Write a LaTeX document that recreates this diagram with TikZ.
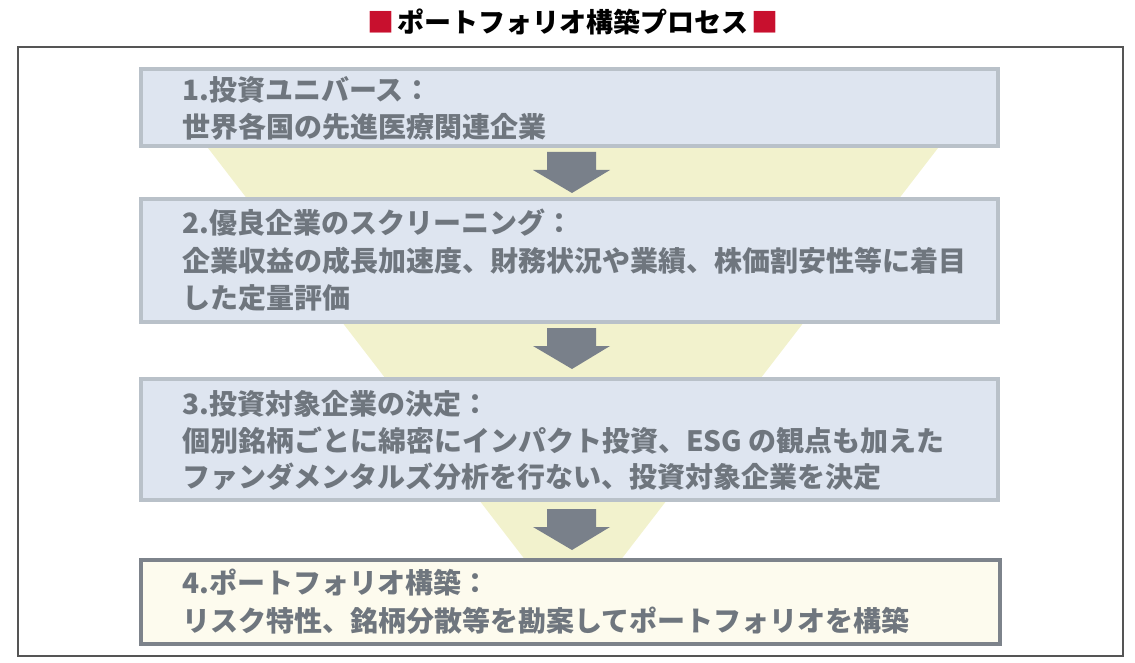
\documentclass[tikz,border=0pt]{standalone}
\usepackage{fontspec}
\newfontfamily\cjk{Noto Sans CJK JP}
\usetikzlibrary{positioning}
\definecolor{boxfill}{HTML}{DEE5F0}
\definecolor{boxline}{HTML}{B9C1C9}
\definecolor{lastfill}{HTML}{FDFBEE}
\definecolor{lastline}{HTML}{7D838B}
\definecolor{funnel}{HTML}{F2F2CD}
\definecolor{arrowc}{HTML}{79808A}
\definecolor{txt}{HTML}{6F767E}
\definecolor{redsq}{HTML}{C8102E}
\definecolor{frame}{HTML}{555555}
\begin{document}
\begin{tikzpicture}[x=1pt,y=-1pt,
  stepbox/.style={draw=boxline,fill=boxfill,line width=4pt,minimum width=857pt,inner sep=0pt},
  lastbox/.style={draw=lastline,fill=lastfill,line width=4pt,minimum width=859pt,inner sep=0pt},
  label/.style={anchor=west,inner sep=0pt,text=txt,font=\cjk\bfseries\fontsize{28}{31}\selectfont},
  downarrow/.style={fill=arrowc}]
\useasboundingbox (0,0) rectangle (1135,663);
% outer frame
\draw[frame,line width=1.5pt] (18,47) rectangle (1123,656);
% title
\node[inner sep=0pt,font=\cjk\bfseries\fontsize{27}{30}\selectfont] (title) at (573,22)
  {\textcolor{redsq}{■}\hspace{3pt}ポートフォリオ構築プロセス\hspace{3pt}\textcolor{redsq}{■}};
% funnel
\fill[funnel] (208,148) -- (938,148) -- (573,622) -- cycle;
% boxes
\node[stepbox,minimum height=77pt] (b1) at (569.5,107.5) {};
\node[stepbox,minimum height=123pt] (b2) at (569.5,260.5) {};
\node[stepbox,minimum height=121pt] (b3) at (569.5,439.5) {};
\node[lastbox,minimum height=84pt] (b4) at (570.5,602) {};
% arrows
\foreach \t in {152,328,509}{
  \fill[downarrow] (547,\t) -- (596,\t) -- (596,\t+18) -- (610,\t+18) -- (572,\t+41) -- (533,\t+18) -- (547,\t+18) -- cycle;
}
% texts
\node[label] (t1a) at (182,90) {1.投資ユニバース：};
\node[label] (t1b) at (182,127) {世界各国の先進医療関連企業};
\node[label] (t2a) at (182,223) {2.優良企業のスクリーニング：};
\node[label] (t2b) at (182,261) {企業収益の成長加速度、財務状況や業績、株価割安性等に着目};
\node[label] (t2c) at (182,298) {した定量評価};
\node[label] (t3a) at (182,404) {3.投資対象企業の決定：};
\node[label] (t3b) at (182,441) {個別銘柄ごとに綿密にインパクト投資、ESG の観点も加えた};
\node[label] (t3c) at (182,477) {ファンダメンタルズ分析を行ない、投資対象企業を決定};
\node[label] (t4a) at (182,583) {4.ポートフォリオ構築：};
\node[label] (t4b) at (182,621) {リスク特性、銘柄分散等を勘案してポートフォリオを構築};
\end{tikzpicture}
\end{document}
